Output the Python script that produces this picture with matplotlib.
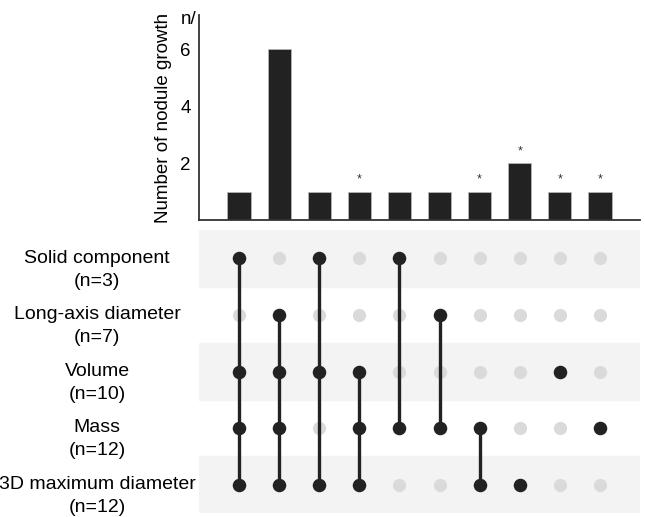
import matplotlib.pyplot as plt
from matplotlib.transforms import blended_transform_factory

plt.rcParams['font.family'] = ['Liberation Sans', 'DejaVu Sans']

# data
set_names = ['Solid component', 'Long-axis diameter', 'Volume', 'Mass', '3D maximum diameter']
set_sizes = [3, 7, 10, 12, 12]
# membership of each intersection column (row indices into set_names)
members = [
    [0, 2, 3, 4],
    [1, 2, 3, 4],
    [0, 2, 4],
    [2, 3, 4],
    [0, 3],
    [1, 3],
    [3, 4],
    [4],
    [2],
    [3],
]
counts = [1, 6, 1, 1, 1, 1, 1, 2, 1, 1]
starred = [False, False, False, True, False, False, True, True, True, True]

dark = '#222222'
light = '#dadada'
band = '#f3f3f3'

W, H = 645, 517
fig = plt.figure(figsize=(W / 100, H / 100), dpi=100)

ax_bar = fig.add_axes([199 / W, 1 - 220 / H, (640 - 199) / W, (220 - 15) / H])
ax_mat = fig.add_axes([199 / W, 1 - 513 / H, (640 - 199) / W, (513 - 230) / H])

xs = list(range(len(counts)))

# bar chart
ax_bar.bar(xs, counts, width=0.58, color=dark, edgecolor='#bbbbbb', linewidth=0.5)
for x, c, s in zip(xs, counts, starred):
    if s:
        ax_bar.text(x, c + 0.2, '*', ha='center', va='bottom', fontsize=9, color='#333333')
ax_bar.set_xlim(-1, 10)
ax_bar.set_ylim(0, 7.2)
ax_bar.set_yticks([2, 4, 6])
ax_bar.set_xticks([])
ax_bar.tick_params(axis='y', length=0, pad=6, labelsize=13.5)
for side in ['top', 'right']:
    ax_bar.spines[side].set_visible(False)
for side in ['left', 'bottom']:
    ax_bar.spines[side].set_color('#333333')
    ax_bar.spines[side].set_linewidth(1.3)
ax_bar.set_ylabel('Number of nodule growth', fontsize=13.5, labelpad=6)
ax_bar.text(-1.05, 7.05, 'n/', ha='right', va='center', fontsize=13.5)

# matrix
n_rows = len(set_names)
ax_mat.set_xlim(-1, 10)
ax_mat.set_ylim(n_rows - 0.5, -0.5)
ax_mat.axis('off')
for r in range(0, n_rows, 2):
    ax_mat.axhspan(r - 0.5, r + 0.5, color=band, zorder=0)

for x, m in zip(xs, members):
    off = [r for r in range(n_rows) if r not in m]
    ax_mat.scatter([x] * len(off), off, s=90, color=light, zorder=2, linewidths=0)
    if len(m) > 1:
        ax_mat.plot([x, x], [min(m), max(m)], color=dark, linewidth=2.4, zorder=2)
    ax_mat.scatter([x] * len(m), m, s=95, color=dark, zorder=3, linewidths=0)

trans = blended_transform_factory(fig.transFigure, ax_mat.transData)
for r, (name, n) in enumerate(zip(set_names, set_sizes)):
    fig.text(97 / W, r + 0.2, '%s\n(n=%d)' % (name, n), transform=trans,
             ha='center', va='center', fontsize=14, linespacing=1.45, multialignment='center')

plt.savefig('out.png', dpi=100)
plt.close()
